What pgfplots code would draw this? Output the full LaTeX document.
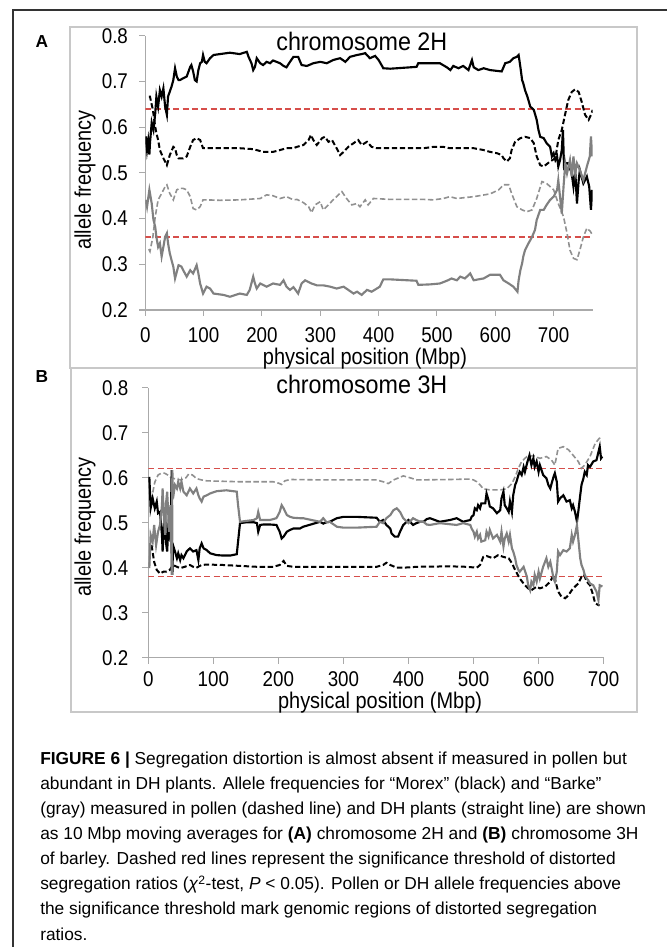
\documentclass[border=0pt]{standalone}
\usepackage{fontspec}
\setmainfont{Liberation Sans}
\newfontfamily\chartfont[FakeStretch=0.88]{Liberation Sans}
\newfontfamily\titlefont[FakeStretch=0.92]{Liberation Sans}
\usepackage{pgfplots}
\pgfplotsset{compat=1.18}

\definecolor{redline}{RGB}{214,78,74}
\definecolor{grayS}{RGB}{128,128,128}
\definecolor{grayD}{RGB}{145,145,145}
\definecolor{axisgray}{RGB}{170,170,170}
\definecolor{framegray}{RGB}{200,200,200}

\pgfplotsset{
  panel/.style={
    scale only axis,
    anchor=south west,
    axis x line=bottom, axis y line=left,
    axis line style={-, draw=axisgray, line width=0.8pt},
    tick align=outside,
    major tick length=4.5pt,
    tick style={draw=axisgray, line width=0.8pt},
    ymin=0.2, ymax=0.8,
    ytick={0.2,0.3,0.4,0.5,0.6,0.7,0.8},
    xtick={0,100,200,300,400,500,600,700},
    /pgf/number format/assume math mode=true,
    tick label style={font=\chartfont\fontsize{16}{18}\selectfont},
    label style={font=\chartfont\fontsize{17}{19}\selectfont, inner sep=1pt},
    title style={font=\titlefont\fontsize{19}{21}\selectfont, anchor=center},
    xlabel={physical position (Mbp)},
    ylabel={allele frequency},
  },
  bS/.style={black, line width=1.6pt},
  bD/.style={black, line width=1.5pt, dash pattern=on 4pt off 2pt},
  gS/.style={grayS, line width=1.6pt},
  gD/.style={grayD, line width=1.2pt, dash pattern=on 4pt off 2pt},
  thr/.style={redline, line width=1.1pt, dash pattern=on 4.5pt off 2.5pt},
}

\begin{document}
\begin{tikzpicture}[x=0.75pt,y=0.75pt]
\path[use as bounding box] (0,0) rectangle (667,947);
\coordinate (originA) at (145.3,637);
\coordinate (originB) at (148.3,289.3);

% frames
\draw[black!80, line width=0.9pt] (667,937) -- (13,937) -- (13,0);
\draw[framegray, line width=1.1pt] (70,920) rectangle (637,579);
\draw[framegray, line width=1.1pt] (71,579) rectangle (637,235);
\node[font=\bfseries\fontsize{13}{15}\selectfont] at (42,905) {A};
\node[font=\bfseries\fontsize{13}{15}\selectfont] at (42,570) {B};

% panel A: chromosome 2H
\begin{axis}[panel, at={(originA)}, width=335.55pt, height=205.65pt,
  xmin=0, xmax=767,
  xticklabel style={yshift=-5pt},
  yticklabel style={xshift=-5pt},
  title={chromosome 2H},
  title style={at={(rel axis cs:0.484,0.952)}},
  xlabel style={at={(rel axis cs:0.491,-0.177)}, anchor=center},
  ylabel style={at={(rel axis cs:-0.135,0.474)}, anchor=center},
]
\addplot[thr] coordinates {(0,0.64) (767,0.64)};
\addplot[thr] coordinates {(0,0.36) (767,0.36)};
% Morex, pollen
\addplot[bD] coordinates {
(6,0.667) (8,0.667) (13,0.638) (17,0.601) (19,0.587) (22,0.572) (25,0.55) (31,0.532) (37,0.517) (42,0.539) (48,0.557) (51,0.554) (54,0.539) (57,0.532) (65,0.532) (71,0.536) (77,0.557) (82,0.572) (88,0.576) (94,0.572) (99,0.554) (105,0.554) (128,0.554) (162,0.554) (185,0.552) (202,0.546) (219,0.546) (231,0.550) (242,0.554) (254,0.554) (260,0.557) (271,0.561) (280,0.572) (284,0.583) (288,0.572) (294,0.561) (303,0.576) (308,0.579) (314,0.568) (320,0.572) (328,0.554) (334,0.539) (340,0.546) (348,0.557) (357,0.565) (365,0.572) (371,0.561) (380,0.568) (388,0.557) (397,0.554) (420,0.554) (477,0.554) (494,0.557) (511,0.557) (522,0.554) (534,0.554) (563,0.554) (580,0.550) (591,0.546) (603,0.543) (611,0.539) (614,0.532) (620,0.525) (625,0.532) (628,0.550) (634,0.568) (643,0.576) (651,0.579) (660,0.576) (666,0.565) (671,0.536) (677,0.517) (683,0.514) (694,0.525) (703,0.532) (708,0.572) (714,0.594) (720,0.630) (725,0.659) (731,0.677) (737,0.683) (743,0.677) (748,0.656) (754,0.627) (760,0.616) (764,0.627) (767,0.638)
};
% Barke, pollen
\addplot[gD] coordinates {
(6,0.333) (8,0.328) (13,0.36) (17,0.404) (22,0.441) (28,0.455) (34,0.470) (37,0.474) (42,0.455) (48,0.441) (54,0.463) (59,0.466) (65,0.466) (71,0.463) (77,0.448) (82,0.422) (88,0.419) (94,0.426) (99,0.441) (105,0.441) (128,0.440) (162,0.441) (197,0.444) (208,0.452) (219,0.450) (231,0.444) (242,0.448) (254,0.441) (260,0.442) (271,0.435) (280,0.426) (285,0.413) (291,0.430) (300,0.437) (305,0.419) (314,0.430) (322,0.441) (337,0.459) (345,0.444) (354,0.430) (363,0.433) (368,0.426) (377,0.441) (382,0.430) (391,0.444) (420,0.442) (477,0.442) (494,0.441) (511,0.444) (522,0.448) (534,0.444) (563,0.448) (591,0.454) (606,0.463) (614,0.474) (623,0.474) (628,0.455) (637,0.426) (646,0.419) (654,0.415) (663,0.419) (671,0.444) (680,0.481) (688,0.477) (700,0.463) (708,0.433) (717,0.404) (723,0.368) (728,0.331) (734,0.313) (740,0.310) (745,0.331) (751,0.360) (757,0.379) (763,0.372) (766,0.365)
};
% Morex, DH
\addplot[bS] coordinates {
(1,0.58) (3,0.55) (5,0.57) (7,0.54) (8,0.565) (11,0.61) (14,0.594) (17,0.63) (19,0.667) (22,0.645) (25,0.681) (28,0.667) (31,0.685) (34,0.645) (37,0.627) (39,0.667) (42,0.678) (45,0.689) (48,0.703) (51,0.729) (54,0.711) (57,0.703) (59,0.703) (65,0.707) (71,0.711) (77,0.732) (79,0.736) (82,0.722) (85,0.703) (88,0.700) (91,0.725) (94,0.740) (97,0.743) (99,0.758) (102,0.743) (105,0.740) (111,0.751) (117,0.758) (128,0.760) (145,0.763) (162,0.760) (174,0.765) (177,0.754) (182,0.740) (185,0.725) (188,0.732) (191,0.751) (197,0.740) (202,0.736) (208,0.743) (214,0.740) (219,0.746) (225,0.743) (231,0.740) (237,0.734) (242,0.731) (248,0.743) (254,0.754) (262,0.754) (268,0.736) (277,0.734) (288,0.740) (300,0.743) (311,0.740) (322,0.747) (334,0.751) (343,0.743) (351,0.754) (363,0.758) (371,0.760) (377,0.762) (385,0.751) (394,0.756) (400,0.747) (405,0.736) (408,0.729) (420,0.728) (465,0.732) (468,0.740) (505,0.740) (517,0.731) (523,0.725) (528,0.734) (537,0.729) (545,0.734) (554,0.725) (560,0.747) (563,0.731) (571,0.725) (580,0.729) (591,0.725) (611,0.722) (617,0.740) (625,0.743) (631,0.751) (637,0.754) (640,0.758) (643,0.732) (646,0.703) (648,0.696) (651,0.681) (655,0.667) (660,0.645) (666,0.638) (671,0.616) (674,0.594) (677,0.579) (683,0.576) (688,0.565) (694,0.557) (697,0.536) (700,0.543) (703,0.528) (706,0.536) (708,0.514) (711,0.528) (714,0.550) (716,0.594) (718,0.506) (720,0.521) (725,0.521) (731,0.499) (734,0.470) (737,0.506) (740,0.433) (743,0.484) (745,0.506) (751,0.477) (757,0.492) (761,0.470) (764,0.419) (766,0.463)
};
% Barke, DH
\addplot[gS] coordinates {
(1,0.441) (3,0.426) (7,0.463) (11,0.433) (14,0.397) (17,0.382) (19,0.360) (22,0.338) (25,0.346) (28,0.317) (31,0.338) (34,0.360) (37,0.368) (39,0.346) (42,0.324) (45,0.309) (48,0.295) (51,0.269) (57,0.298) (62,0.295) (65,0.287) (71,0.273) (77,0.287) (82,0.280) (88,0.298) (91,0.280) (94,0.258) (99,0.236) (105,0.251) (111,0.247) (117,0.236) (134,0.233) (145,0.229) (162,0.236) (174,0.233) (179,0.244) (185,0.273) (188,0.258) (191,0.247) (197,0.258) (208,0.251) (219,0.258) (231,0.255) (237,0.265) (242,0.251) (248,0.244) (254,0.250) (262,0.236) (268,0.258) (274,0.265) (285,0.258) (294,0.254) (305,0.254) (317,0.251) (328,0.247) (340,0.251) (348,0.244) (357,0.236) (363,0.240) (371,0.233) (380,0.244) (388,0.240) (397,0.247) (402,0.251) (408,0.267) (420,0.267) (465,0.264) (468,0.255) (488,0.256) (505,0.258) (517,0.264) (525,0.269) (534,0.265) (540,0.273) (548,0.269) (557,0.280) (563,0.265) (571,0.267) (580,0.269) (591,0.277) (608,0.277) (614,0.265) (623,0.258) (631,0.251) (638,0.240) (640,0.265) (643,0.287) (646,0.302) (648,0.317) (651,0.331) (657,0.346) (663,0.360) (668,0.375) (671,0.397) (677,0.419) (683,0.419) (688,0.430) (694,0.441) (700,0.448) (706,0.463) (708,0.484) (711,0.448) (714,0.411) (717,0.470) (720,0.521) (723,0.499) (728,0.528) (731,0.492) (734,0.536) (737,0.499) (740,0.521) (745,0.506) (751,0.484) (757,0.514) (762,0.536) (764,0.580) (766,0.536)
};
\end{axis}

% panel B: chromosome 3H
\begin{axis}[panel, at={(originB)}, width=341.5pt, height=202.5pt,
  xmin=0, xmax=700,
  xticklabel style={yshift=-2.5pt},
  yticklabel style={xshift=-7pt},
  title={chromosome 3H},
  title style={at={(rel axis cs:0.469,0.984)}},
  xlabel style={at={(rel axis cs:0.509,-0.168)}, anchor=center},
  ylabel style={at={(rel axis cs:-0.139,0.484)}, anchor=center},
]
\addplot[thr] coordinates {(0,0.62) (700,0.62)};
\addplot[thr] coordinates {(0,0.38) (700,0.38)};
% Morex, pollen
\addplot[bD] coordinates {
(5,0.45) (9,0.413) (13,0.395) (18,0.387) (23,0.391) (28,0.391) (33,0.395) (38,0.406) (44,0.402) (49,0.399) (56,0.402) (64,0.406) (69,0.402) (74,0.400) (82,0.406) (90,0.407) (115,0.406) (141,0.404) (167,0.402) (192,0.402) (202,0.406) (208,0.415) (213,0.404) (223,0.402) (351,0.402) (361,0.406) (366,0.411) (372,0.406) (382,0.400) (392,0.400) (413,0.402) (464,0.403) (489,0.402) (505,0.400) (510,0.406) (515,0.424) (520,0.426) (530,0.421) (538,0.428) (546,0.424) (554,0.421) (559,0.410) (564,0.395) (571,0.376) (579,0.361) (584,0.354) (589,0.350) (597,0.358) (602,0.354) (610,0.358) (618,0.369) (623,0.384) (625,0.376) (630,0.347) (635,0.336) (641,0.332) (646,0.339) (651,0.350) (656,0.358) (661,0.365) (666,0.380) (670,0.384) (674,0.369) (679,0.361) (683,0.343) (687,0.321) (692,0.317) (694,0.317)
};
% Barke, pollen
\addplot[gD] coordinates {
(4,0.55) (6,0.561) (10,0.59) (15,0.606) (20,0.61) (25,0.61) (30,0.606) (35,0.600) (40,0.598) (50,0.595) (58,0.600) (62,0.608) (68,0.606) (74,0.598) (82,0.595) (90,0.593) (141,0.591) (192,0.591) (200,0.588) (205,0.585) (210,0.593) (218,0.596) (269,0.595) (351,0.595) (361,0.591) (369,0.587) (377,0.595) (392,0.604) (402,0.600) (413,0.595) (464,0.596) (495,0.597) (500,0.595) (505,0.591) (510,0.584) (515,0.575) (525,0.573) (541,0.573) (551,0.575) (559,0.587) (564,0.602) (569,0.621) (574,0.636) (582,0.647) (592,0.649) (602,0.643) (612,0.647) (620,0.639) (625,0.628) (630,0.665) (638,0.669) (646,0.662) (653,0.650) (661,0.636) (666,0.621) (671,0.628) (679,0.647) (687,0.676) (693,0.687) (697,0.690)
};
% Morex, DH
\addplot[bS] coordinates {
(1.6,0.602) (3.6,0.532) (6.7,0.554) (10,0.532) (13,0.547) (15,0.521) (18,0.524) (21,0.473) (22,0.436) (24,0.495) (26,0.524) (27,0.458) (29,0.436) (31,0.495) (32,0.517) (34,0.458) (36,0.617) (37,0.384) (38,0.450) (41,0.436) (44,0.421) (46,0.432) (49,0.417) (51,0.428) (54,0.421) (59,0.436) (64,0.443) (69,0.436) (74,0.439) (77,0.417) (79,0.443) (82,0.454) (85,0.443) (90,0.439) (95,0.432) (105,0.428) (115,0.427) (126,0.427) (136,0.430) (138,0.458) (141,0.499) (151,0.501) (162,0.501) (167,0.499) (169,0.480) (172,0.495) (177,0.496) (187,0.496) (197,0.495) (202,0.480) (205,0.465) (208,0.469) (213,0.480) (218,0.484) (223,0.487) (233,0.487) (238,0.491) (264,0.502) (269,0.498) (274,0.501) (279,0.502) (290,0.510) (300,0.513) (320,0.513) (351,0.511) (356,0.502) (361,0.506) (366,0.495) (372,0.487) (374,0.476) (379,0.469) (384,0.469) (387,0.480) (392,0.495) (400,0.506) (407,0.495) (412,0.499) (418,0.502) (423,0.502) (428,0.508) (433,0.510) (448,0.502) (464,0.506) (474,0.510) (484,0.502) (489,0.504) (495,0.506) (497,0.513) (500,0.517) (502,0.532) (505,0.528) (507,0.539) (510,0.532) (512,0.543) (518,0.543) (520,0.565) (523,0.550) (525,0.536) (530,0.532) (536,0.521) (541,0.528) (543,0.554) (546,0.569) (548,0.539) (551,0.532) (554,0.524) (556,0.547) (559,0.524) (561,0.561) (564,0.584) (566,0.591) (569,0.606) (571,0.613) (574,0.606) (577,0.624) (579,0.613) (583,0.636) (586,0.650) (589,0.628) (592,0.643) (594,0.624) (597,0.636) (600,0.613) (602,0.628) (607,0.606) (612,0.599) (615,0.584) (618,0.576) (620,0.587) (623,0.602) (625,0.610) (628,0.591) (630,0.547) (633,0.554) (638,0.561) (643,0.547) (648,0.550) (651,0.532) (653,0.539) (656,0.524) (659,0.502) (661,0.524) (664,0.561) (666,0.584) (669,0.599) (671,0.613) (674,0.606) (676,0.628) (679,0.624) (684,0.636) (689,0.639) (694,0.669) (696,0.643) (698,0.647)
};
% Barke, DH
\addplot[gS] coordinates {
(1.6,0.399) (3.6,0.473) (6.7,0.458) (9,0.495) (12,0.450) (15,0.480) (18,0.495) (21,0.539) (22,0.576) (24,0.510) (26,0.473) (27,0.539) (29,0.569) (31,0.510) (32,0.480) (34,0.539) (36,0.384) (37,0.617) (38,0.554) (41,0.584) (44,0.576) (46,0.591) (49,0.576) (51,0.591) (54,0.569) (59,0.561) (64,0.576) (69,0.565) (74,0.576) (77,0.561) (79,0.554) (82,0.547) (85,0.558) (90,0.561) (95,0.565) (105,0.570) (120,0.572) (136,0.569) (138,0.539) (141,0.502) (151,0.504) (162,0.506) (167,0.510) (169,0.524) (172,0.506) (177,0.506) (187,0.506) (197,0.510) (202,0.524) (205,0.539) (208,0.532) (213,0.517) (218,0.513) (223,0.511) (233,0.510) (238,0.510) (264,0.502) (269,0.510) (274,0.501) (279,0.502) (290,0.491) (300,0.489) (320,0.489) (351,0.491) (356,0.502) (361,0.499) (366,0.510) (372,0.517) (377,0.528) (382,0.532) (387,0.524) (392,0.510) (400,0.499) (407,0.510) (412,0.506) (418,0.502) (423,0.502) (428,0.496) (433,0.495) (448,0.499) (474,0.495) (484,0.499) (495,0.495) (497,0.487) (500,0.480) (502,0.469) (505,0.480) (507,0.465) (510,0.473) (512,0.458) (518,0.461) (520,0.480) (523,0.469) (525,0.484) (530,0.465) (536,0.473) (541,0.458) (543,0.480) (546,0.447) (548,0.465) (551,0.476) (554,0.458) (556,0.473) (559,0.443) (561,0.436) (564,0.421) (566,0.406) (569,0.395) (571,0.391) (577,0.402) (582,0.380) (584,0.361) (587,0.350) (589,0.369) (592,0.361) (594,0.384) (597,0.369) (600,0.391) (602,0.376) (607,0.402) (612,0.421) (615,0.402) (618,0.413) (620,0.399) (623,0.376) (625,0.369) (628,0.391) (630,0.436) (633,0.428) (638,0.439) (643,0.436) (648,0.443) (651,0.473) (653,0.458) (656,0.473) (659,0.495) (661,0.465) (664,0.421) (666,0.406) (669,0.395) (671,0.384) (674,0.376) (676,0.373) (679,0.365) (684,0.361) (689,0.347) (692,0.328) (694,0.361) (698,0.358)
};
\end{axis}

% caption
\begin{scope}[every node/.style={anchor=base west, inner sep=0pt, font=\fontsize{13}{15}\selectfont}]
\node at (40,182) {\textbf{FIGURE 6 |} Segregation distortion is almost absent if measured in pollen but};
\node at (40,157) {abundant in DH plants. Allele frequencies for ``Morex'' (black) and ``Barke''};
\node at (40,132) {(gray) measured in pollen (dashed line) and DH plants (straight line) are shown};
\node at (40,107) {as 10 Mbp moving averages for \textbf{(A)} chromosome 2H and \textbf{(B)} chromosome 3H};
\node at (40,82) {of barley. Dashed red lines represent the significance threshold of distorted};
\node at (40,57) {segregation ratios (\textit{χ}\textsuperscript{2}-test, \textit{P} < 0.05). Pollen or DH allele frequencies above};
\node at (40,32) {the significance threshold mark genomic regions of distorted segregation};
\node at (40,7) {ratios.};
\end{scope}
\end{tikzpicture}
\end{document}
